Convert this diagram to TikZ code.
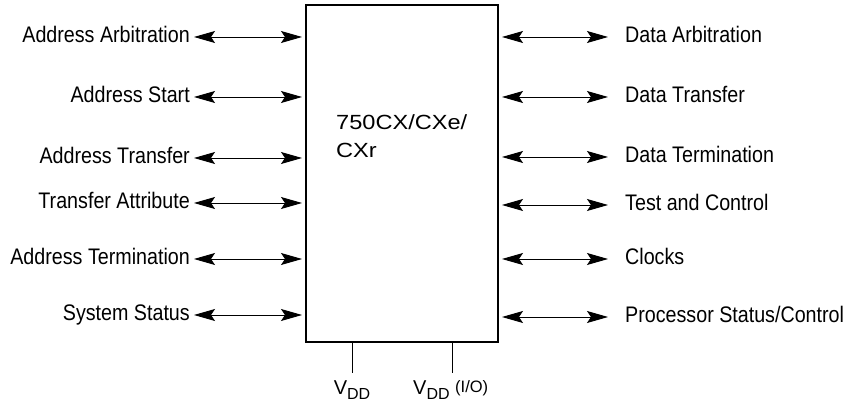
\documentclass[tikz,border=0pt]{standalone}
\usepackage{fontspec}
\setmainfont{Liberation Sans}
\newfontfamily\narrowfont[FakeStretch=0.875]{Liberation Sans}
\newfontfamily\widefont[FakeStretch=1.15]{Liberation Sans}
\usetikzlibrary{arrows.meta}
\tikzset{
	sigtip/.tip={Stealth[length=21pt,width=12pt,inset=4pt]},
	sigarrow/.style={line width=0.9pt, sigtip-sigtip},
	siglabel/.style={font=\narrowfont\fontsize{22.5}{26}\selectfont, inner ysep=0pt, text height=12pt, text depth=0pt},
	leftlabel/.style={siglabel, anchor=east, inner xsep=4pt},
	rightlabel/.style={siglabel, anchor=west, inner xsep=17pt},
	pinlabel/.style={font=\fontsize{20}{22}\selectfont, inner sep=0pt, anchor=base}
}
\newcommand{\vddtext}{V\raisebox{-5pt}{\fontsize{16}{16}\selectfont DD}}

\begin{document}
\begin{tikzpicture}[x=1pt, y=-1pt]
			%%%%% START %%%%%
			\useasboundingbox (0, 0) rectangle (847, 406);
			
			\node[draw, line width=2pt, minimum width=192pt, minimum height=337pt, inner sep=0pt] (cpu) at (402, 173.5) {};
			\node[font=\widefont\fontsize{20.5}{28}\selectfont, align=left, anchor=north west, inner sep=0pt] (cpuname) at (336, 114) {750CX/CXe/\\CXr};
			
			\node[leftlabel] (addrarb) at (194, 37) {Address Arbitration};
			\node[leftlabel] (addrstart) at (194, 97) {Address Start};
			\node[leftlabel] (addrxfer) at (194, 158) {Address Transfer};
			\node[leftlabel] (xferattr) at (194, 203) {Transfer Attribute};
			\node[leftlabel] (addrterm) at (194, 259) {Address Termination};
			\node[leftlabel] (sysstat) at (194, 315) {System Status};
			
			\draw[sigarrow, shorten >=3pt] (addrarb.east) -- (addrarb.east -| cpu.west);
			\draw[sigarrow, shorten >=3pt] (addrstart.east) -- (addrstart.east -| cpu.west);
			\draw[sigarrow, shorten >=3pt] (addrxfer.east) -- (addrxfer.east -| cpu.west);
			\draw[sigarrow, shorten >=3pt] (xferattr.east) -- (xferattr.east -| cpu.west);
			\draw[sigarrow, shorten >=3pt] (addrterm.east) -- (addrterm.east -| cpu.west);
			\draw[sigarrow, shorten >=3pt] (sysstat.east) -- (sysstat.east -| cpu.west);
			
			\node[rightlabel] (dataarb) at (608, 37) {Data Arbitration};
			\node[rightlabel] (dataxfer) at (608, 97) {Data Transfer};
			\node[rightlabel] (dataterm) at (608, 157) {Data Termination};
			\node[rightlabel] (testctrl) at (608, 205) {Test and Control};
			\node[rightlabel] (clocks) at (608, 259) {Clocks};
			\node[rightlabel] (procstat) at (608, 317) {Processor Status/Control};
			
			\draw[sigarrow, shorten <=3pt] (dataarb.west -| cpu.east) -- (dataarb.west);
			\draw[sigarrow, shorten <=3pt] (dataxfer.west -| cpu.east) -- (dataxfer.west);
			\draw[sigarrow, shorten <=3pt] (dataterm.west -| cpu.east) -- (dataterm.west);
			\draw[sigarrow, shorten <=3pt] (testctrl.west -| cpu.east) -- (testctrl.west);
			\draw[sigarrow, shorten <=3pt] (clocks.west -| cpu.east) -- (clocks.west);
			\draw[sigarrow, shorten <=3pt] (procstat.west -| cpu.east) -- (procstat.west);
			
			\coordinate (vddend) at (352, 373);
			\coordinate (vddioend) at (452, 373);
			\draw[line width=0.9pt] (vddend |- cpu.south) -- (vddend);
			\draw[line width=0.9pt] (vddioend |- cpu.south) -- (vddioend);
			
			\node[pinlabel] (vdd) at (352, 395) {\vddtext};
			\node[pinlabel, anchor=base west] (vddio) at (413, 395) {\vddtext\ \raisebox{2pt}{\fontsize{16.5}{16.5}\selectfont(I/O)}};
			
			%%%%% END %%%%%
\end{tikzpicture}
\end{document}
